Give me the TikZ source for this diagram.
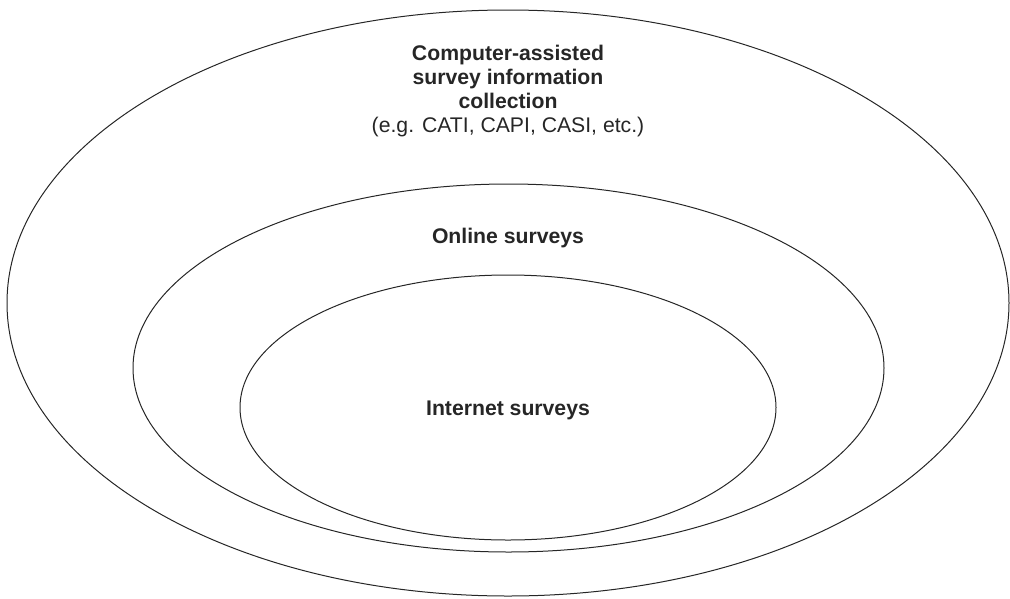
\documentclass[tikz,border=0pt]{standalone}
\usepackage{fontspec}
\setmainfont{Liberation Sans}
\usetikzlibrary{shapes.geometric}
\begin{document}
\begin{tikzpicture}[x=1pt,y=-1pt,
  ring/.style={draw=black!85,line width=1pt},
  lbl/.style={align=center,font=\fontsize{21.2}{23.8}\selectfont,inner sep=0pt,text=black!85}]
\useasboundingbox (0,0) rectangle (1010,598);
\draw[ring] (508,303) ellipse [x radius=501, y radius=293];
\draw[ring] (508.5,368) ellipse [x radius=375.5, y radius=184];
\draw[ring] (508,407.5) ellipse [x radius=268, y radius=132.5];
\node[lbl] (outer) at (508,91) {\textbf{Computer-assisted}\\\textbf{survey information}\\\textbf{collection}\\(e.g. CATI, CAPI, CASI, etc.)};
\node[lbl] (online) at (508,238) {\textbf{Online surveys}};
\node[lbl] (internet) at (508,410) {\textbf{Internet surveys}};
\end{tikzpicture}
\end{document}
